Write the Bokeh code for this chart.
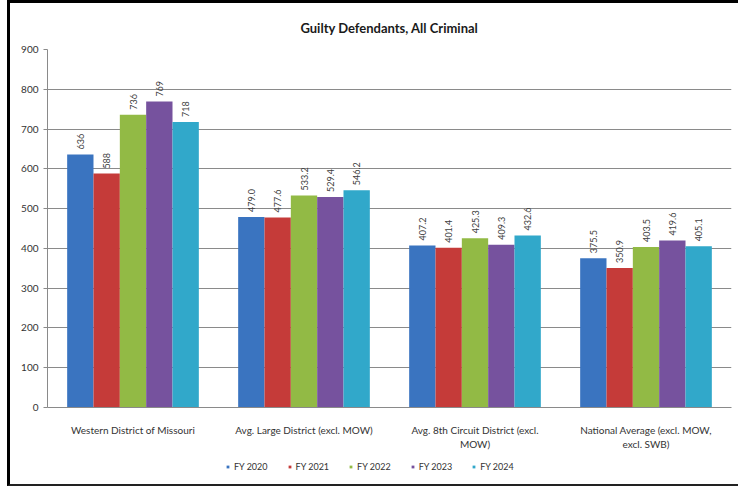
from bokeh.plotting import figure
from bokeh.models import ColumnDataSource, FactorRange, Legend, LegendItem, Column
from bokeh.transform import dodge
from bokeh.embed import file_html
from bokeh.resources import INLINE
from bokeh.core.properties import value
import math

categories = ["Western District of Missouri", "Avg. Large District (excl. MOW)",
              "Avg. 8th Circuit District (excl.\nMOW)", "National Average (excl. MOW,\nexcl. SWB)"]
series_names = ["FY 2020", "FY 2021", "FY 2022", "FY 2023", "FY 2024"]
fy2020 = [636, 479.0, 407.2, 375.5]
fy2021 = [588, 477.6, 401.4, 350.9]
fy2022 = [736, 533.2, 425.3, 403.5]
fy2023 = [769, 529.4, 409.3, 419.6]
fy2024 = [718, 546.2, 432.6, 405.1]
labels2020 = ["636", "479.0", "407.2", "375.5"]
labels2021 = ["588", "477.6", "401.4", "350.9"]
labels2022 = ["736", "533.2", "425.3", "403.5"]
labels2023 = ["769", "529.4", "409.3", "419.6"]
labels2024 = ["718", "546.2", "432.6", "405.1"]
y_ticks = [0, 100, 200, 300, 400, 500, 600, 700, 800, 900]

series = [fy2020, fy2021, fy2022, fy2023, fy2024]
labels = [labels2020, labels2021, labels2022, labels2023, labels2024]
colors = ["#3A74C0", "#C53B39", "#92BA45", "#76529E", "#31A8CA"]
font = "Lato"

W = 728
p = figure(x_range=FactorRange(*categories), y_range=(0, 900), width=W, height=449,
           output_backend="svg", toolbar_location=None,
           min_border_left=37, min_border_right=7, min_border_top=45, min_border_bottom=40)

p.title.text = "Guilty Defendants, All Criminal"
p.title.align = "center"
p.title.text_font = font
p.title.text_font_size = "13px"
p.title.text_font_style = "bold"
p.title.text_color = "#1a1a1a"
p.title.standoff = 28

w = 0.154
offsets = [-2 * w, -w, 0, w, 2 * w]
for i in range(5):
    src = ColumnDataSource(dict(cat=categories, val=series[i], lab=labels[i]))
    p.vbar(x=dodge("cat", offsets[i], range=p.x_range), top="val", width=w, source=src,
           fill_color=colors[i], line_color=None)
    p.text(x=dodge("cat", offsets[i], range=p.x_range), y="val", text="lab", source=src,
           angle=math.pi / 2, text_align="left", text_baseline="middle", y_offset=-5,
           text_font=value(font), text_font_size="9px", text_color="#404040")

p.yaxis.ticker = y_ticks
p.ygrid.ticker = y_ticks
p.ygrid.grid_line_color = "#8a8a8a"
p.xgrid.grid_line_color = None
p.outline_line_color = None
p.yaxis.axis_line_color = "#8a8a8a"
p.xaxis.axis_line_color = "#8a8a8a"
p.yaxis.major_tick_line_color = "#8a8a8a"
p.yaxis.major_tick_out = 4
p.yaxis.major_tick_in = 0
p.yaxis.minor_tick_line_color = None
p.xaxis.major_tick_line_color = None
p.yaxis.major_label_text_font = font
p.xaxis.major_label_text_font = font
p.yaxis.major_label_text_font_size = "10px"
p.xaxis.major_label_text_font_size = "10px"
p.yaxis.major_label_text_color = "#333333"
p.xaxis.major_label_text_color = "#333333"
p.xaxis.major_label_standoff = 10

# legend strip: one swatch glyph per series, kept outside the strip's visible range
lg = figure(width=W, height=32, output_backend="svg", toolbar_location=None,
            x_range=(0, 1), y_range=(0, 1), min_border=0)
lg.axis.visible = False
lg.grid.visible = False
lg.outline_line_color = None
items = []
for i in range(5):
    src = ColumnDataSource(dict(x=[series[i][0]], y=[series[i][0]]))
    r = lg.square(x="x", y="y", size=7, fill_color=colors[i], line_color=None, source=src)
    items.append(LegendItem(label=series_names[i], renderers=[r]))
legend = Legend(items=items, orientation="horizontal", location=(177, 12),
                label_text_font=font, label_text_font_size="9px", label_text_color="#333333",
                glyph_width=7, glyph_height=7, label_standoff=3, spacing=18,
                border_line_color=None, background_fill_alpha=0, margin=0, padding=4)
lg.add_layout(legend)

layout = Column(p, lg, spacing=0,
                styles={"border-left": "3px solid black", "border-top": "3px solid black",
                        "border-bottom": "2px solid #222222", "margin-left": "7px"})

open("out.html", "w").write(file_html(layout, INLINE))
